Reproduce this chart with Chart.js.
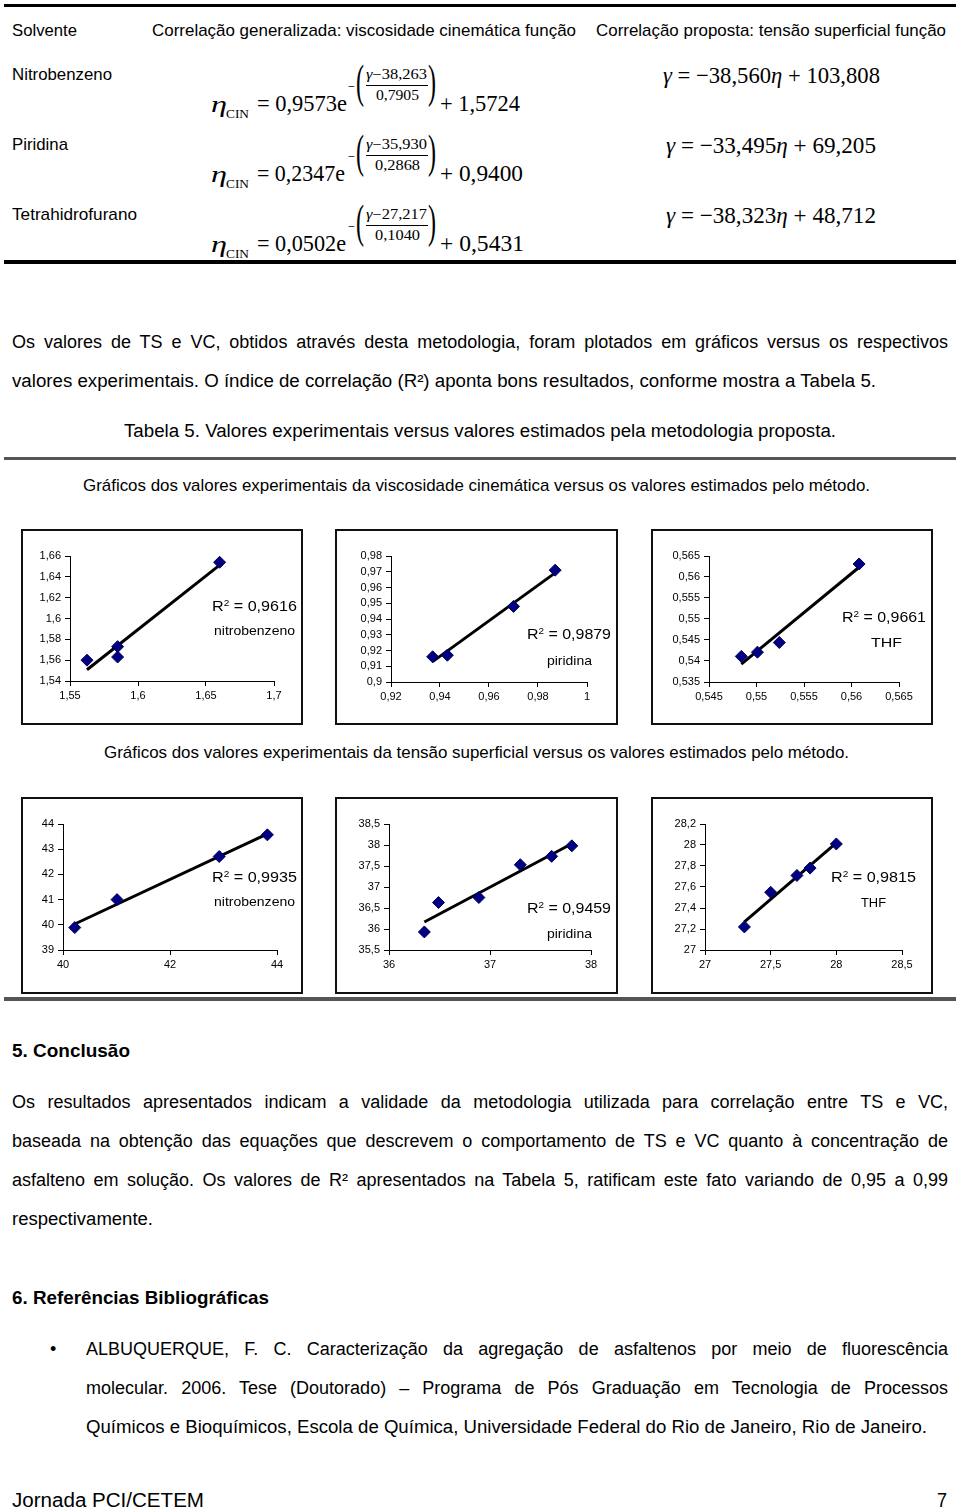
<!DOCTYPE html>
<html lang="pt">
<head>
<meta charset="utf-8">
<title>Jornada PCI/CETEM - 7</title>
<script src="https://cdn.jsdelivr.net/npm/chart.js@4.4.1/dist/chart.umd.min.js"></script>
<style>
  html, body { margin: 0; padding: 0; background: #fff; }
  body { width: 960px; height: 1511px; position: relative; overflow: hidden;
         font-family: "Liberation Sans", Arial, sans-serif; color: #000; }
  .t { position: absolute; white-space: nowrap; transform-origin: 0 50%; }
  .serif { font-family: "Liberation Serif", "Times New Roman", serif; }
  .b { font-weight: bold; }
  .rule { position: absolute; }
  .box { position: absolute; box-sizing: border-box; border: 2px solid #111; background: #fff; }
  .box canvas { position: absolute; left: 0; top: 0; }
  sup { font-size: 0.62em; vertical-align: 0.55em; line-height: 0; }
</style>
</head>
<body>

<div class="rule" style="left:4px;top:4px;width:952px;height:3px;background:#000"></div>
<div class="rule" style="left:4px;top:260px;width:952px;height:4px;background:#000"></div>
<div class="rule" style="left:4px;top:457px;width:952px;height:3px;background:#555"></div>
<div class="rule" style="left:4px;top:997px;width:952px;height:4px;background:#555"></div>

<div class="box" id="b1" style="left:21px;top:529px;width:282px;height:196px"><canvas id="c1"></canvas></div>
<div class="box" id="b2" style="left:335px;top:529px;width:283px;height:196px"><canvas id="c2"></canvas></div>
<div class="box" id="b3" style="left:651px;top:529px;width:282px;height:196px"><canvas id="c3"></canvas></div>
<div class="box" id="b4" style="left:21px;top:797px;width:282px;height:197px"><canvas id="c4"></canvas></div>
<div class="box" id="b5" style="left:335px;top:797px;width:283px;height:197px"><canvas id="c5"></canvas></div>
<div class="box" id="b6" style="left:651px;top:797px;width:282px;height:197px"><canvas id="c6"></canvas></div>

<script>
// viscosidade cinematica: experimental (x) versus estimado (y)
const visNitroX = [1.5625, 1.585, 1.585, 1.660];
const visNitroY = [1.560, 1.573, 1.563, 1.654];
const visPiriX = [0.937, 0.943, 0.970, 0.987];
const visPiriY = [0.916, 0.917, 0.948, 0.971];
const visThfX = [0.5484, 0.5501, 0.5524, 0.5608];
const visThfY = [0.5411, 0.5421, 0.5444, 0.5631];

// tensao superficial
const tsNitroX = [40.22, 41.01, 42.92, 43.82];
const tsNitroY = [39.89, 41.00, 42.71, 43.57];
const tsPiriX = [36.35, 36.49, 36.89, 37.30, 37.61, 37.81];
const tsPiriY = [35.93, 36.63, 36.75, 37.53, 37.73, 37.98];
const tsThfX = [27.30, 27.50, 27.70, 27.80, 28.00];
const tsThfY = [27.22, 27.55, 27.71, 27.78, 28.01];

// tick labels
const visNitroXTicks = [1.55, 1.6, 1.65, 1.7];
const visNitroYTicks = [1.54, 1.56, 1.58, 1.6, 1.62, 1.64, 1.66];
const visPiriXTicks = [0.92, 0.94, 0.96, 0.98, 1];
const visPiriYTicks = [0.9, 0.91, 0.92, 0.93, 0.94, 0.95, 0.96, 0.97, 0.98];
const visThfXTicks = [0.545, 0.55, 0.555, 0.56, 0.565];
const visThfYTicks = [0.535, 0.54, 0.545, 0.55, 0.555, 0.56, 0.565];
const tsNitroXTicks = [40, 42, 44];
const tsNitroYTicks = [39, 40, 41, 42, 43, 44];
const tsPiriXTicks = [36, 37, 38];
const tsPiriYTicks = [35.5, 36, 36.5, 37, 37.5, 38, 38.5];
const tsThfXTicks = [27, 27.5, 28, 28.5];
const tsThfYTicks = [27, 27.2, 27.4, 27.6, 27.8, 28, 28.2];

const r2Values = ['0,9616', '0,9879', '0,9661', '0,9935', '0,9459', '0,9815'];
const seriesNames = ['nitrobenzeno', 'piridina', 'THF', 'nitrobenzeno', 'piridina', 'THF'];

const tickFont = '"Liberation Sans Narrow", "Liberation Sans", Arial, sans-serif';

// places one line of text, stretched/squeezed to the width it has in the scan
function put(html, x, cy, w, size, opts) {
  opts = opts || {};
  const el = document.createElement('div');
  el.className = 't' + (opts.cls ? ' ' + opts.cls : '');
  el.innerHTML = html;
  const lh = Math.round(size * 1.3);
  el.style.fontSize = size + 'px';
  el.style.lineHeight = lh + 'px';
  el.style.left = x + 'px';
  el.style.top = (cy - lh / 2) + 'px';
  document.body.appendChild(el);
  if (w) {
    const nat = el.getBoundingClientRect().width;
    if (opts.justify && nat < w) {
      el.style.width = w + 'px';
      el.style.whiteSpace = 'normal';
      el.style.textAlign = 'justify';
      el.style.textAlignLast = 'justify';
    } else {
      el.style.transform = 'scaleX(' + (w / nat) + ')';
    }
  }
  return el;
}

function fmt(v) {
  return String(+v.toFixed(4)).replace('.', ',');
}

// least squares trend line, like the spreadsheet one, over the data range
function trendLine(xs, ys) {
  const n = xs.length;
  const mx = xs.reduce((a, b) => a + b, 0) / n;
  const my = ys.reduce((a, b) => a + b, 0) / n;
  let sxy = 0, sxx = 0;
  for (let i = 0; i < n; i++) {
    sxy += (xs[i] - mx) * (ys[i] - my);
    sxx += (xs[i] - mx) * (xs[i] - mx);
  }
  const b = sxy / sxx, a = my - b * mx;
  const x0 = Math.min(...xs), x1 = Math.max(...xs);
  return [{ x: x0, y: a + b * x0 }, { x: x1, y: a + b * x1 }];
}

function axisOpts(ticksArr, size, isX) {
  return {
    type: 'linear',
    min: ticksArr[0],
    max: ticksArr[ticksArr.length - 1],
    afterBuildTicks: s => { s.ticks = ticksArr.map(v => ({ value: v })); },
    afterFit: s => { if (isX) s.height = size; else s.width = size; },
    grid: { drawOnChartArea: false, drawTicks: true, tickLength: 5, color: '#000', lineWidth: 1 },
    border: { display: true, color: '#000', width: 1 },
    ticks: {
      color: '#000', autoSkip: false, maxRotation: 0, padding: isX ? 3 : 4,
      font: { family: tickFont, size: 11 },
      callback: v => fmt(v)
    }
  };
}

// plot: page coordinates of the plot area [left, top, right, bottom]
function scatterChart(n, xs, ys, xTicks, yTicks, plot) {
  const box = document.getElementById('b' + n);
  const canvas = document.getElementById('c' + n);
  const ix = box.offsetLeft + 2, iy = box.offsetTop + 2;
  const W = box.offsetWidth - 4, H = box.offsetHeight - 4;
  canvas.width = W; canvas.height = H;
  canvas.style.width = W + 'px'; canvas.style.height = H + 'px';
  const pts = xs.map((x, i) => ({ x: x, y: ys[i] }));
  new Chart(canvas, {
    type: 'scatter',
    data: {
      datasets: [
        { data: pts, pointStyle: 'rectRot', pointRadius: 6, backgroundColor: '#000080',
          borderColor: '#000060', borderWidth: 1, order: 1 },
        { type: 'line', data: trendLine(xs, ys), borderColor: '#000', borderWidth: 3,
          pointRadius: 0, fill: false, order: 2 }
      ]
    },
    options: {
      responsive: false,
      animation: false,
      events: [],
      layout: { padding: { left: 0, bottom: 0, top: plot[1] - iy, right: ix + W - plot[2] } },
      plugins: { legend: { display: false }, tooltip: { enabled: false } },
      scales: {
        x: axisOpts(xTicks, iy + H - plot[3], true),
        y: axisOpts(yTicks, plot[0] - ix, false)
      }
    }
  });
}

scatterChart(1, visNitroX, visNitroY, visNitroXTicks, visNitroYTicks, [70, 556, 274, 681]);
scatterChart(2, visPiriX, visPiriY, visPiriXTicks, visPiriYTicks, [391, 556, 587, 682]);
scatterChart(3, visThfX, visThfY, visThfXTicks, visThfYTicks, [709, 556, 899, 682]);
scatterChart(4, tsNitroX, tsNitroY, tsNitroXTicks, tsNitroYTicks, [63, 824, 277, 950]);
scatterChart(5, tsPiriX, tsPiriY, tsPiriXTicks, tsPiriYTicks, [389, 824, 591, 950]);
scatterChart(6, tsThfX, tsThfY, tsThfXTicks, tsThfYTicks, [705, 824, 902, 950]);

// R2 and solvent labels inside the charts
const r2Pos = [[212, 606, 85], [527, 634, 84], [842, 617, 84], [212, 877, 85], [527, 908, 84], [831, 877, 85]];
const namePos = [[214, 630, 81], [547, 660, 45], [871, 642, 31], [214, 901, 81], [547, 933, 45], [861, 902, 25]];
r2Values.forEach((v, i) => {
  const p = r2Pos[i], q = namePos[i];
  put('R<sup>2</sup> = ' + v, p[0], p[1], p[2], 15);
  put(seriesNames[i], q[0], q[1], q[2], 13);
});

// table header and rows
put('Solvente', 12, 31, 65, 17);
put('Correlação generalizada: viscosidade cinemática função', 152, 31, 424, 17);
put('Correlação proposta: tensão superficial função', 596, 31, 350, 17);
put('Nitrobenzeno', 12, 75, 100, 17);
put('Piridina', 12, 145, 56, 17);
put('Tetrahidrofurano', 12, 215, 125, 17);

const eqLeft = [
  ['= 0,9573e', 'γ−38,263', '0,7905', '+ 1,5724', 90, 43, 80],
  ['= 0,2347e', 'γ−35,930', '0,2868', '+ 0,9400', 88, 45, 83],
  ['= 0,0502e', 'γ−27,217', '0,1040', '+ 0,5431', 89, 45, 84]
];
const eqRight = [
  ['−38,560', '103,808', 663, 217],
  ['−33,495', '69,205', 666, 210],
  ['−38,323', '48,712', 666, 210]
];
eqLeft.forEach((e, r) => {
  const dy = r * 70;
  put('<i>η</i>', 211, 104 + dy, 16, 24, { cls: 'serif' });
  put('CIN', 226, 114 + dy, 23, 12, { cls: 'serif' });
  put(e[0], 257, 104 + dy, e[4], 23, { cls: 'serif' });
  put('−', 348, 87 + dy, 7, 14, { cls: 'serif' });
  put('(', 356, 82 + dy, 8, 46, { cls: 'serif' });
  put('<i>γ</i>' + e[1].slice(1), 366, 75 + dy, 61, 14, { cls: 'serif' });
  const bar = document.createElement('div');
  bar.className = 'rule';
  bar.style.cssText = 'left:366px;top:' + (85 + dy) + 'px;width:62px;height:1px;background:#000';
  document.body.appendChild(bar);
  put(e[2], 397 - e[5] / 2, 96 + dy, e[5], 14, { cls: 'serif' });
  put(')', 428, 82 + dy, 8, 46, { cls: 'serif' });
  put(e[3], 440, 104 + dy, e[6], 23, { cls: 'serif' });
  const q = eqRight[r];
  put('<i>γ</i> = ' + q[0] + '<i>η</i> + ' + q[1], q[2], 76 + dy, q[3], 23, { cls: 'serif' });
});

// running text
put('Os valores de TS e VC, obtidos através desta metodologia, foram plotados em gráficos versus os respectivos', 12, 342, 936, 18, { justify: true });
put('valores experimentais. O índice de correlação (R²) aponta bons resultados, conforme mostra a Tabela 5.', 12, 381, 864, 18);
put('Tabela 5. Valores experimentais versus valores estimados pela metodologia proposta.', 124, 431, 712, 18);
put('Gráficos dos valores experimentais da viscosidade cinemática versus os valores estimados pelo método.', 83, 486, 787, 17);
put('Gráficos dos valores experimentais da tensão superficial versus os valores estimados pelo método.', 104, 753, 745, 17);

put('5. Conclusão', 12, 1050, 118, 19, { cls: 'b' });
put('Os resultados apresentados indicam a validade da metodologia utilizada para correlação entre TS e VC,', 12, 1102, 936, 18, { justify: true });
put('baseada na obtenção das equações que descrevem o comportamento de TS e VC quanto à concentração de', 12, 1141, 936, 18, { justify: true });
put('asfalteno em solução. Os valores de R² apresentados na Tabela 5, ratificam este fato variando de 0,95 a 0,99', 12, 1180, 936, 18, { justify: true });
put('respectivamente.', 12, 1219, 141, 18);

put('6. Referências Bibliográficas', 12, 1297, 257, 19, { cls: 'b' });
put('•', 50, 1349, 0, 18);
put('ALBUQUERQUE, F. C. Caracterização da agregação de asfaltenos por meio de fluorescência', 86, 1349, 862, 18, { justify: true });
put('molecular. 2006. Tese (Doutorado) – Programa de Pós Graduação em Tecnologia de Processos', 86, 1388, 862, 18, { justify: true });
put('Químicos e Bioquímicos, Escola de Química, Universidade Federal do Rio de Janeiro, Rio de Janeiro.', 86, 1427, 841, 18);

put('Jornada PCI/CETEM', 12, 1500, 192, 20);
put('7', 937, 1500, 10, 20);
</script>
</body>
</html>
